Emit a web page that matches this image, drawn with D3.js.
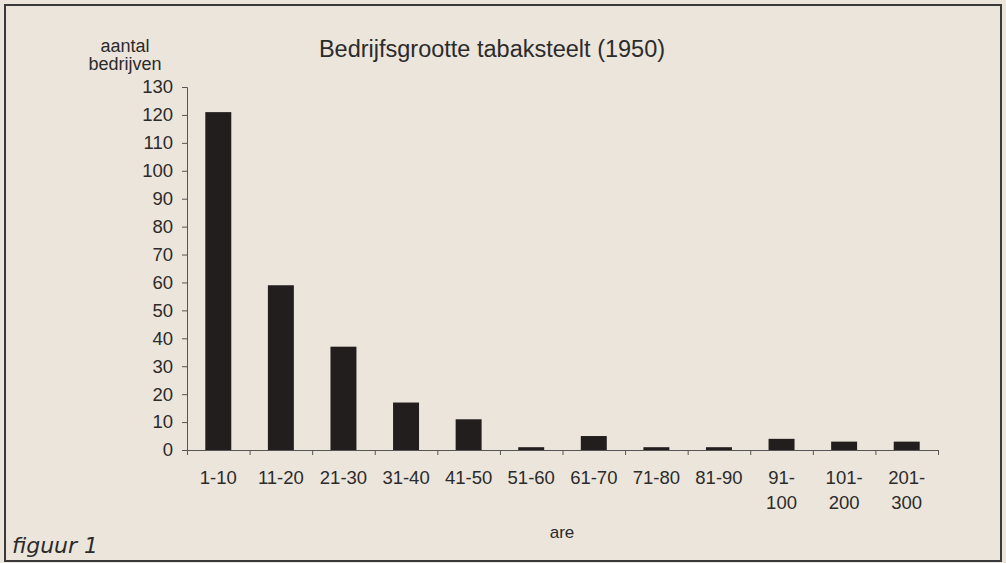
<!DOCTYPE html>
<html>
<head>
<meta charset="utf-8">
<script src="https://cdn.jsdelivr.net/npm/d3@7"></script>
<style>
  body { margin:0; background:#ece5db; }
  #graph { width:1006px; height:563px; }
  text { font-family:"Liberation Sans", Arial, sans-serif; fill:#2b2b2b; }
</style>
</head>
<body>
<div id="graph"></div>
<script>
// categories (are) and number of farms
const categories = ["1-10","11-20","21-30","31-40","41-50","51-60","61-70","71-80","81-90","91-100","101-200","201-300"]
const counts = [121, 59, 37, 17, 11, 1, 5, 1, 1, 4, 3, 3]
const yTicks = [0,10,20,30,40,50,60,70,80,90,100,110,120,130]

const width = 1006, height = 563
const svg = d3.select("#graph").append("svg")
    .attr("width", width)
    .attr("height", height)

// frame round the figure
svg.append("rect")
   .attr("x", 5).attr("y", 5)
   .attr("width", 996).attr("height", 556)
   .attr("fill", "#ece5db")
   .attr("stroke", "#3a3a3a")
   .attr("stroke-width", 2)

const xScale = d3.scaleBand()
    .domain(categories)
    .range([187, 938])
    .paddingInner(0.585)
    .paddingOuter(0.2925)

const yScale = d3.scaleLinear()
    .domain([0, 130])
    .range([450, 87])

// bars
svg.selectAll(".bar")
   .data(counts)
   .enter()
   .append("rect")
   .attr("class", "bar")
   .attr("x", (d, i) => xScale(categories[i]))
   .attr("y", d => yScale(d))
   .attr("width", xScale.bandwidth())
   .attr("height", d => yScale(0) - yScale(d))
   .attr("fill", "#221e1e")

// y axis
const yAxis = svg.append("g")
   .attr("transform", "translate(187,0)")
   .call(d3.axisLeft(yScale).tickValues(yTicks).tickSize(5).tickPadding(9))
yAxis.select(".domain").attr("stroke", "#555").attr("d", "M-5,87.5H0.5V450.5")
yAxis.selectAll(".tick line").attr("stroke", "#555")
yAxis.selectAll(".tick text").style("font-size", "18.5px").attr("fill", "#2b2b2b")

// x axis: boundary ticks between categories
const slot = d3.scaleLinear().domain([0, categories.length]).range([187, 938])
const xTicks = svg.append("g")
   .attr("transform", "translate(0,450)")
   .call(d3.axisBottom(slot).tickValues(d3.range(0, categories.length + 1)).tickSize(5).tickFormat(""))
xTicks.select(".domain").attr("stroke", "#555")
xTicks.selectAll(".tick line").attr("stroke", "#555")

// x labels, split after the hyphen for the wide ranges
const xLabels = svg.append("g")
   .attr("transform", "translate(0,450)")
   .call(d3.axisBottom(xScale).tickSize(0).tickPadding(21))
xLabels.select(".domain").remove()
xLabels.selectAll(".tick text")
   .style("font-size", "18.5px")
   .attr("fill", "#2b2b2b")
   .each(function(d) {
       const t = d3.select(this)
       const parts = d.split("-")
       if (+parts[1] >= 100) {
           t.text(null)
           t.append("tspan").attr("x", 0).attr("dy", "0.71em").text(parts[0] + "-")
           t.append("tspan").attr("x", 0).attr("dy", "1.35em").text(parts[1])
       }
   })

// title
svg.append("text")
   .attr("x", 492)
   .attr("y", 57)
   .attr("text-anchor", "middle")
   .style("font-size", "23.5px")
   .text("Bedrijfsgrootte tabaksteelt (1950)")

// y label
svg.append("text")
   .attr("x", 125).attr("y", 52)
   .attr("text-anchor", "middle")
   .style("font-size", "18px")
   .text("aantal")
svg.append("text")
   .attr("x", 125).attr("y", 70)
   .attr("text-anchor", "middle")
   .style("font-size", "18px")
   .text("bedrijven")

// x label
svg.append("text")
   .attr("x", 562).attr("y", 538)
   .attr("text-anchor", "middle")
   .style("font-size", "17px")
   .text("are")

// caption
svg.append("text")
   .attr("x", 12).attr("y", 553)
   .style("font-family", "'DejaVu Sans', sans-serif")
   .style("font-style", "italic")
   .style("font-size", "22px")
   .attr("fill", "#333")
   .text("figuur 1")
</script>
</body>
</html>
